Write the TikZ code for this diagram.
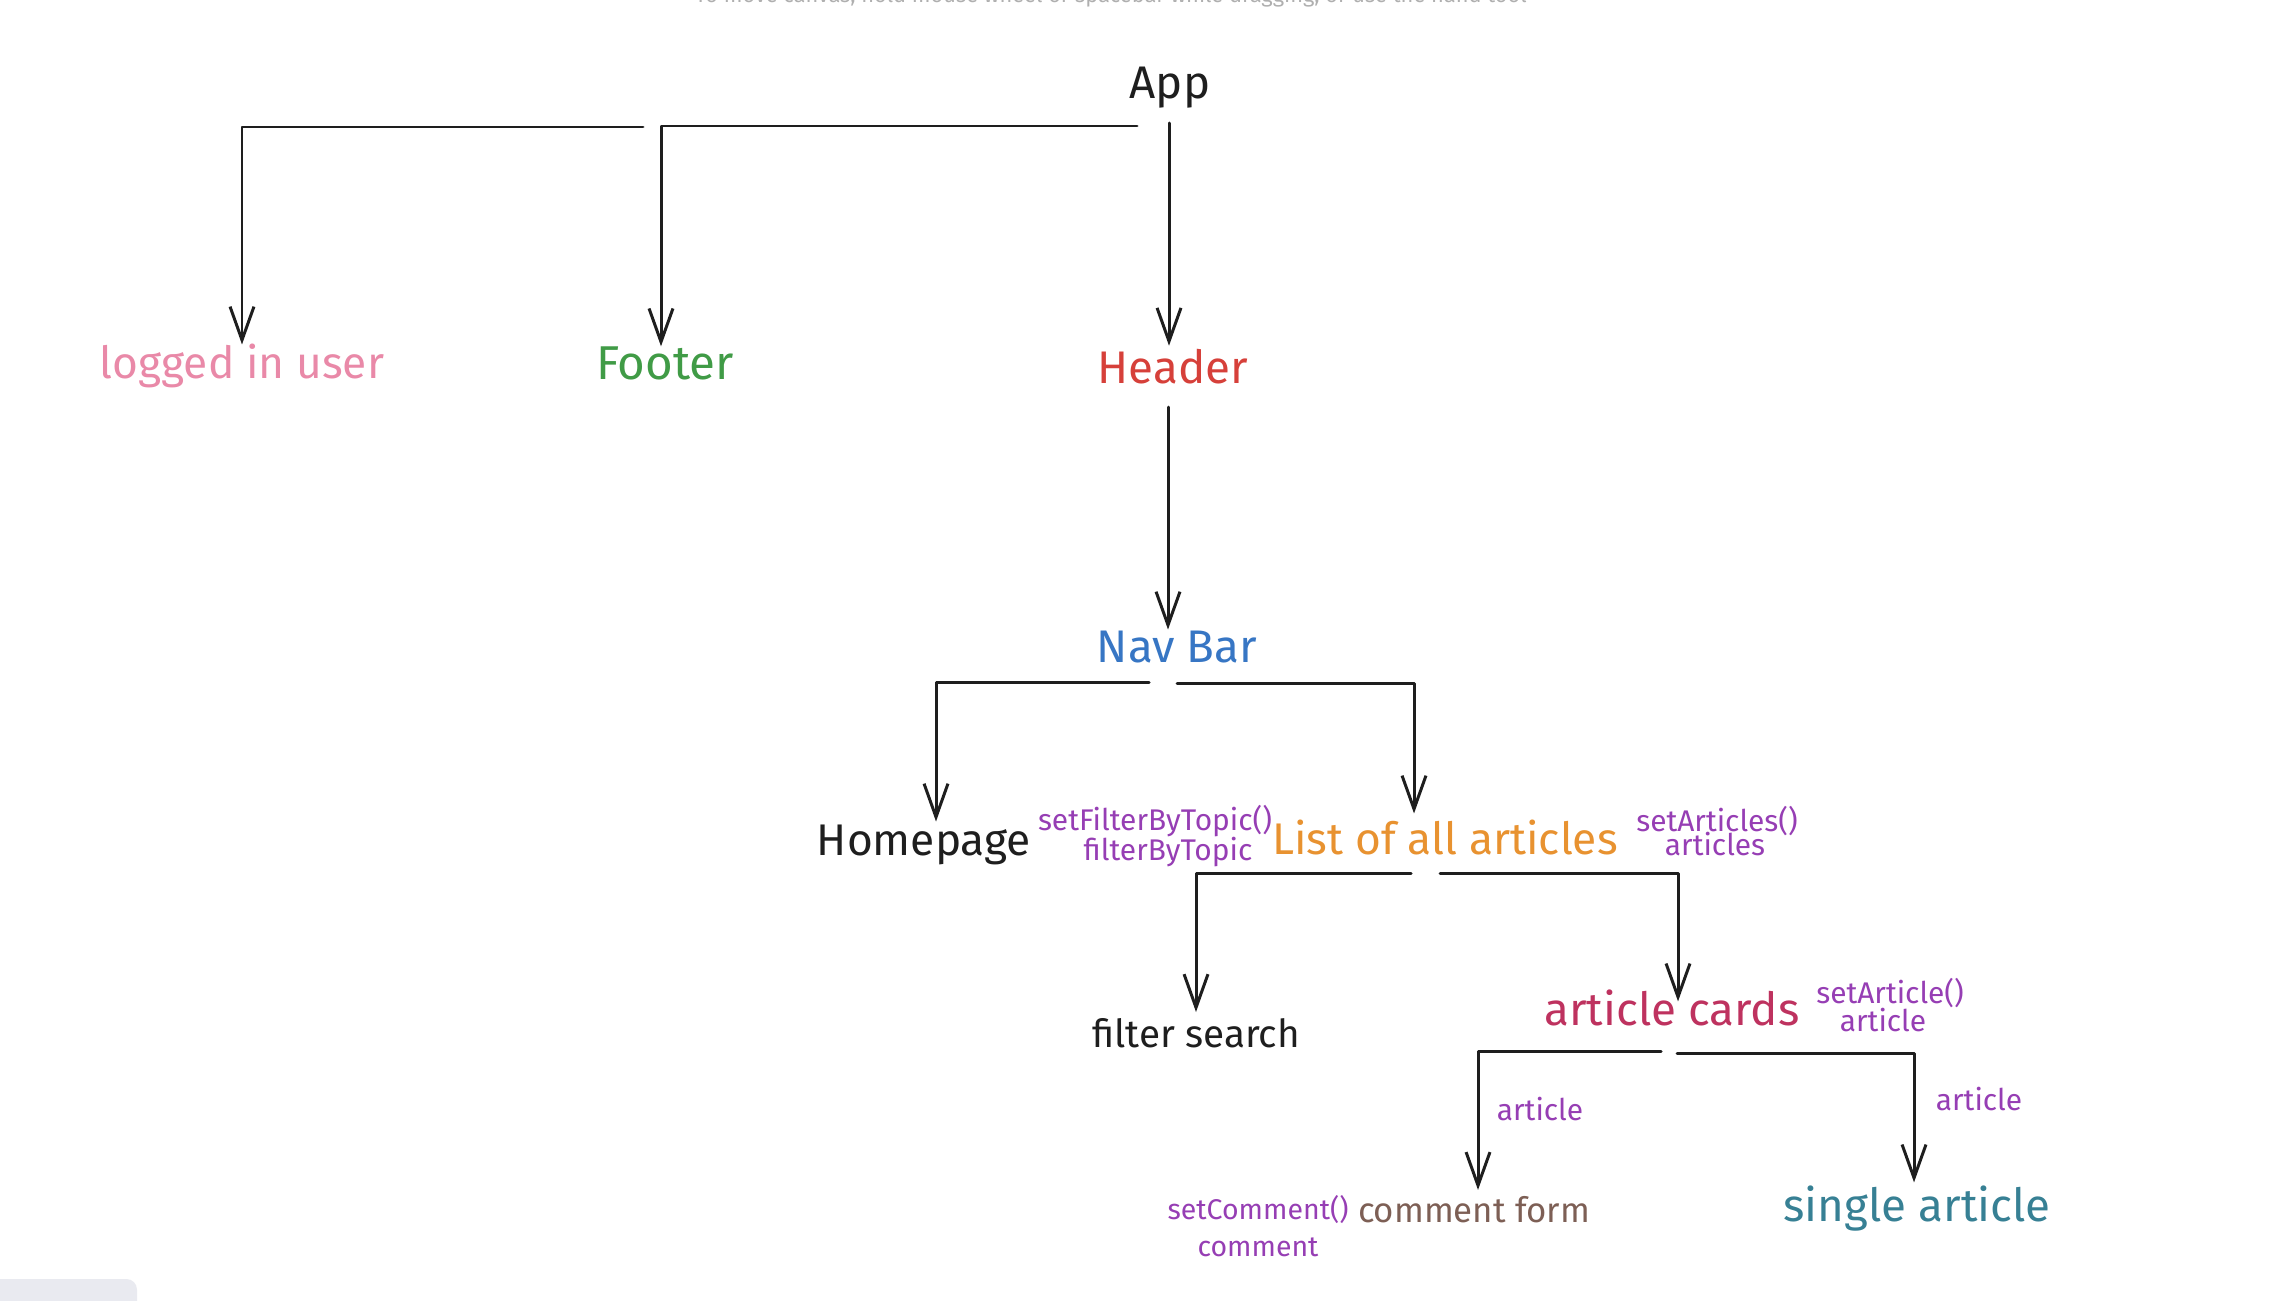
\documentclass[tikz,border=0pt]{standalone}
\usepackage{fontspec}
\setmainfont{Fira Sans}
\usetikzlibrary{arrows.meta,calc}
\definecolor{ink}{RGB}{30,30,30}
\definecolor{cpink}{RGB}{233,137,168}
\definecolor{cgreen}{RGB}{64,155,70}
\definecolor{cred}{RGB}{214,64,58}
\definecolor{cblue}{RGB}{55,118,196}
\definecolor{corange}{RGB}{232,146,48}
\definecolor{cpurple}{RGB}{150,62,180}
\definecolor{ccrimson}{RGB}{190,50,95}
\definecolor{cbrown}{RGB}{125,95,85}
\definecolor{cteal}{RGB}{55,128,148}
\definecolor{uibar}{RGB}{233,234,240}
\definecolor{hintgray}{RGB}{175,175,175}
\begin{document}
\begin{tikzpicture}[x=0.01cm,y=-0.01cm,
  big/.style={inner sep=1.5pt, anchor=base, font=\fontsize{13}{15}\selectfont},
  mid/.style={inner sep=1.5pt, anchor=base, font=\fontsize{11}{13}\selectfont},
  prop/.style={inner sep=0pt, anchor=base, text=cpurple, font=\fontsize{8.5}{10}\selectfont},
  arr/.style={draw=ink, line width=0.85pt, line cap=round, line join=round,
    -{Straight Barb[length=9.5pt,width=6.8pt,line width=0.85pt]}}]
\useasboundingbox (0,0) rectangle (2286,1300);
% UI remnants
\fill[uibar, rounded corners=3pt] (-40,1279) rectangle (137,1340);
\node[anchor=base, inner sep=0pt, text=hintgray, font=\fontsize{6.2}{8}\selectfont] (hint) at (1111,3)
  {To move canvas, hold mouse wheel or spacebar while dragging, or use the hand tool};
% nodes
\node[big, text=ink] (app) at (1170,99) {App};
\node[big, text=cpink, font=\fontsize{12.6}{15}\selectfont] (user) at (242,378) {logged in user};
\node[big, text=cgreen, font=\fontsize{13.5}{15}\selectfont] (footer) at (665,379) {Footer};
\node[big, text=cred] (header) at (1173,383) {Header};
\node[big, text=cblue] (navbar) at (1177,662) {Nav Bar};
\node[big, text=ink, font=\fontsize{12.6}{15}\selectfont] (home) at (924,855) {Homepage};
\node[prop] (filterset) at (1155,830) {setFilterByTopic()};
\node[prop] (filterval) at (1168,860) {filterByTopic};
\node[big, text=corange, font=\fontsize{12.6}{15}\selectfont] (list) at (1445,854) {List of all articles};
\node[prop] (listset) at (1717,831) {setArticles()};
\node[prop] (listval) at (1715,855) {articles};
\node[mid, text=ink] (filter) at (1196,1047) {filter search};
\node[big, text=ccrimson] (cards) at (1672,1025) {article cards};
\node[prop] (cardset) at (1890,1003) {setArticle()};
\node[prop] (cardval) at (1883,1031) {article};
\node[mid, text=cbrown, font=\fontsize{9.9}{12}\selectfont] (comment) at (1474,1222) {comment form};
\node[prop, font=\fontsize{8.1}{10}\selectfont] (commentset) at (1258,1219) {setComment()};
\node[prop, font=\fontsize{8.1}{10}\selectfont] (commentval) at (1258,1256) {comment};
\node[big, text=cteal] (single) at (1917,1221) {single article};
\node[prop] (artl) at (1540,1120) {article};
\node[prop] (artr) at (1979,1110) {article};
% connector start points
\coordinate (s1) at (1137,126);
\coordinate (s2) at (643,127);
\coordinate (s0) at (1169,123);
\coordinate (sh) at (1168,407);
\coordinate (s3) at (1149,682);
\coordinate (s4) at (1177,683);
\coordinate (s5) at (1411,873);
\coordinate (s6) at (1440,873);
\coordinate (s7) at (1661,1051);
\coordinate (s8) at (1677,1053);
% connectors
\draw[arr] (s1) -| ($(footer.north)+(-4,6)$);
\draw[arr] (s2) -| ($(user.north)+(0,7)$);
\draw[arr] (s0) -- (s0 |- {$(header.north)+(0,3)$});
\draw[arr] (sh) -- (sh |- {$(navbar.north)+(0,5)$});
\draw[arr] (s3) -| ($(home.north)+(12,3)$);
\draw[arr] (s4) -| ($(list.north)+(-31,0)$);
\draw[arr] (s5) -| (filter.north);
\draw[arr] (s6) -| ($(cards.north)+(6,18)$);
\draw[arr] (s7) -| ($(comment.north)+(4,0)$);
\draw[arr] (s8) -| ($(single.north)+(-3,3)$);
\end{tikzpicture}
\end{document}
